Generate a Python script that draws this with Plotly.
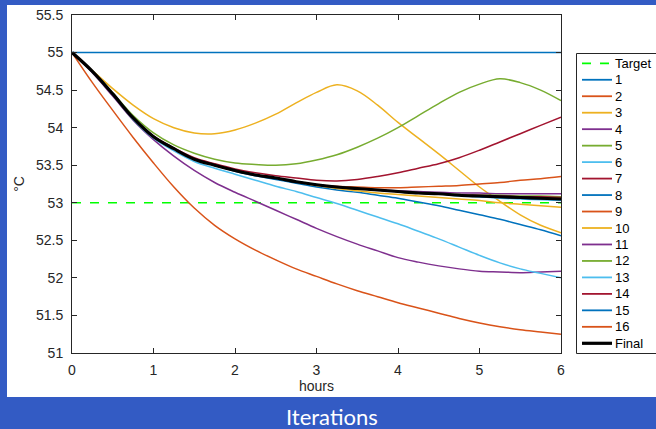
import plotly.graph_objects as go

# Time grid (hours) shared by every run
hours = [0, 0.25, 0.5, 0.75, 1, 1.25, 1.5, 1.75, 2, 2.25, 2.5, 2.75, 3,
         3.25, 3.5, 3.75, 4, 4.25, 4.5, 4.75, 5, 5.25, 5.5, 5.75, 6]

target_temp = 53.0

iter_1 = [55] * 25
iter_2 = [55, 54.6, 54.23, 53.87, 53.53, 53.21, 52.93, 52.7, 52.52, 52.37, 52.24, 52.12, 52.02,
          51.92, 51.83, 51.75, 51.67, 51.6, 51.53, 51.46, 51.4, 51.35, 51.31, 51.28, 51.25]
iter_3 = [55, 54.76, 54.52, 54.3, 54.12, 54.0, 53.93, 53.92, 53.97, 54.06, 54.18, 54.33, 54.47,
          54.57, 54.49, 54.3, 54.07, 53.86, 53.65, 53.43, 53.21, 53.02, 52.84, 52.7, 52.6]
iter_4 = [55, 54.73, 54.42, 54.1, 53.84, 53.62, 53.43, 53.27, 53.14, 53.02, 52.9, 52.78, 52.66,
          52.55, 52.45, 52.36, 52.27, 52.21, 52.16, 52.12, 52.09, 52.08, 52.07, 52.08, 52.09]
iter_5 = [55, 54.75, 54.46, 54.16, 53.93, 53.77, 53.66, 53.58, 53.53, 53.51, 53.5, 53.52, 53.57,
          53.64, 53.74, 53.86, 54.0, 54.16, 54.32, 54.47, 54.58, 54.65, 54.6, 54.5, 54.36]
iter_6 = [55, 54.74, 54.44, 54.11, 53.86, 53.69, 53.55, 53.46, 53.38, 53.3, 53.22, 53.15, 53.07,
          52.99, 52.9, 52.81, 52.72, 52.62, 52.52, 52.41, 52.3, 52.2, 52.12, 52.06, 52.0]
iter_7 = [55, 54.75, 54.45, 54.13, 53.89, 53.73, 53.6, 53.52, 53.45, 53.4, 53.36, 53.33, 53.3,
          53.29, 53.31, 53.35, 53.4, 53.46, 53.52, 53.6, 53.7, 53.81, 53.92, 54.03, 54.14]
iter_8 = [55, 54.75, 54.45, 54.13, 53.88, 53.72, 53.58, 53.5, 53.42, 53.36, 53.31, 53.26, 53.21,
          53.17, 53.14, 53.1, 53.06, 53.01, 52.96, 52.9, 52.84, 52.78, 52.71, 52.64, 52.56]
iter_9 = [55, 54.75, 54.45, 54.13, 53.88, 53.72, 53.58, 53.5, 53.43, 53.37, 53.33, 53.28, 53.24,
          53.22, 53.21, 53.2, 53.2, 53.21, 53.22, 53.23, 53.25, 53.27, 53.3, 53.32, 53.35]
iter_10 = [55, 54.75, 54.45, 54.13, 53.88, 53.72, 53.58, 53.5, 53.43, 53.37, 53.33, 53.28, 53.23,
           53.19, 53.16, 53.13, 53.11, 53.09, 53.07, 53.05, 53.03, 53.0, 52.98, 52.96, 52.94]
iter_11 = [55, 54.75, 54.45, 54.13, 53.88, 53.72, 53.58, 53.5, 53.43, 53.37, 53.33, 53.28, 53.24,
           53.21, 53.19, 53.17, 53.16, 53.15, 53.14, 53.13, 53.13, 53.12, 53.12, 53.12, 53.12]
iter_12 = [55, 54.75, 54.45, 54.13, 53.88, 53.72, 53.58, 53.5, 53.43, 53.37, 53.33, 53.28, 53.24,
           53.21, 53.19, 53.17, 53.15, 53.13, 53.12, 53.11, 53.1, 53.1, 53.09, 53.09, 53.08]
iter_13 = [55, 54.75, 54.45, 54.13, 53.88, 53.72, 53.58, 53.5, 53.43, 53.37, 53.33, 53.28, 53.24,
           53.21, 53.19, 53.17, 53.15, 53.13, 53.12, 53.09, 53.08, 53.06, 53.05, 53.04, 53.03]
iter_14 = [55, 54.75, 54.45, 54.13, 53.88, 53.72, 53.58, 53.5, 53.43, 53.37, 53.33, 53.28, 53.24,
           53.21, 53.19, 53.17, 53.15, 53.13, 53.12, 53.1, 53.1, 53.09, 53.08, 53.08, 53.07]
iter_15 = [55, 54.75, 54.45, 54.13, 53.88, 53.72, 53.58, 53.5, 53.43, 53.37, 53.33, 53.28, 53.24,
           53.21, 53.19, 53.17, 53.15, 53.13, 53.12, 53.1, 53.08, 53.07, 53.06, 53.05, 53.04]
iter_16 = [55, 54.75, 54.45, 54.13, 53.88, 53.72, 53.58, 53.5, 53.43, 53.37, 53.33, 53.28, 53.24,
           53.21, 53.19, 53.17, 53.15, 53.13, 53.12, 53.1, 53.09, 53.08, 53.07, 53.06, 53.06]
final_run = [55, 54.75, 54.45, 54.13, 53.88, 53.72, 53.58, 53.5, 53.43, 53.37, 53.33, 53.28, 53.24,
             53.21, 53.19, 53.17, 53.15, 53.13, 53.12, 53.1, 53.09, 53.08, 53.07, 53.06, 53.05]

iterations = [iter_1, iter_2, iter_3, iter_4, iter_5, iter_6, iter_7, iter_8,
              iter_9, iter_10, iter_11, iter_12, iter_13, iter_14, iter_15, iter_16]
iteration_names = [str(i) for i in range(1, 17)]

# MATLAB default colour order, cycled
palette = ["#0072BD", "#D95319", "#EDB120", "#7E2F8E", "#77AC30", "#4DBEEE", "#A2142F"]

x_ticks = [0, 1, 2, 3, 4, 5, 6]
y_ticks = [51, 51.5, 52, 52.5, 53, 53.5, 54, 54.5, 55, 55.5]

BG_BLUE = "#335BC4"
AXIS_GREY = "#262626"
FONT = "Liberation Sans, Arial, sans-serif"

W, H = 656, 429
L, R, T, B = 72, 95, 15, 76
PW, PH = W - L - R, H - T - B


def px(x):
    return (x - L) / PW


def py(y):
    return (H - B - y) / PH


fig = go.Figure()

fig.add_trace(go.Scatter(x=[hours[0], hours[-1]], y=[target_temp, target_temp], mode="lines",
                         line=dict(color="#00FF00", width=1.6, dash="dash"), name="Target",
                         showlegend=False))
for k, (vals, name) in enumerate(zip(iterations, iteration_names)):
    fig.add_trace(go.Scatter(x=hours, y=vals, mode="lines", name=name, showlegend=False,
                             line=dict(color=palette[k % len(palette)], width=1.5,
                                       shape="spline", smoothing=1.0)))
fig.add_trace(go.Scatter(x=hours, y=final_run, mode="lines", name="Final", showlegend=False,
                         line=dict(color="black", width=3.2, shape="spline", smoothing=1.0)))

shapes = [
    # white panel behind the axes
    dict(type="rect", xref="paper", yref="paper", x0=px(7), x1=px(W + 5), y0=py(397), y1=py(5),
         fillcolor="white", line=dict(width=0), layer="below"),
    # legend frame
    dict(type="rect", xref="paper", yref="paper", x0=px(576.5), x1=px(W + 5), y0=py(353.5),
         y1=py(53.5), fillcolor="white", line=dict(color=AXIS_GREY, width=1), layer="above"),
]
annotations = []

legend_entries = [("Target", "#00FF00", "dash", 1.8)]
legend_entries += [(n, palette[k % len(palette)], "solid", 1.8) for k, n in enumerate(iteration_names)]
legend_entries += [("Final", "black", "solid", 3.2)]
row_h = 16.47
for i, (label, color, dash, width) in enumerate(legend_entries):
    yc = 63.3 + i * row_h
    shapes.append(dict(type="line", xref="paper", yref="paper", x0=px(582), x1=px(612),
                       y0=py(yc), y1=py(yc), line=dict(color=color, width=width, dash=dash),
                       layer="above"))
    annotations.append(dict(xref="paper", yref="paper", x=px(612.5), y=py(yc), text=label,
                            showarrow=False, xanchor="left", yanchor="middle",
                            font=dict(family=FONT, size=13, color="black")))

annotations.append(dict(xref="paper", yref="paper", x=px(332), y=py(416), text="Iterations",
                        showarrow=False, xanchor="center", yanchor="middle",
                        font=dict(family="Lato, sans-serif", size=22, color="white")))

axis_common = dict(showgrid=False, zeroline=False, showline=True, linecolor=AXIS_GREY,
                   linewidth=1, mirror="ticks", ticks="inside", ticklen=5, tickcolor=AXIS_GREY,
                   tickfont=dict(family=FONT, size=14, color=AXIS_GREY))

fig.update_layout(
    width=W, height=H,
    margin=dict(l=L, r=R, t=T, b=B, autoexpand=False),
    paper_bgcolor=BG_BLUE, plot_bgcolor="white",
    showlegend=False,
    shapes=shapes, annotations=annotations,
    xaxis=dict(range=[0, 6], tickvals=x_ticks, ticklabelstandoff=4,
               title=dict(text="hours", font=dict(family=FONT, size=14, color=AXIS_GREY), standoff=2),
               **axis_common),
    yaxis=dict(range=[51, 55.5], tickvals=y_ticks, ticklabelstandoff=5,
               title=dict(text="°C", font=dict(family=FONT, size=14, color=AXIS_GREY), standoff=8),
               **axis_common),
)

fig.write_html("out.html")
